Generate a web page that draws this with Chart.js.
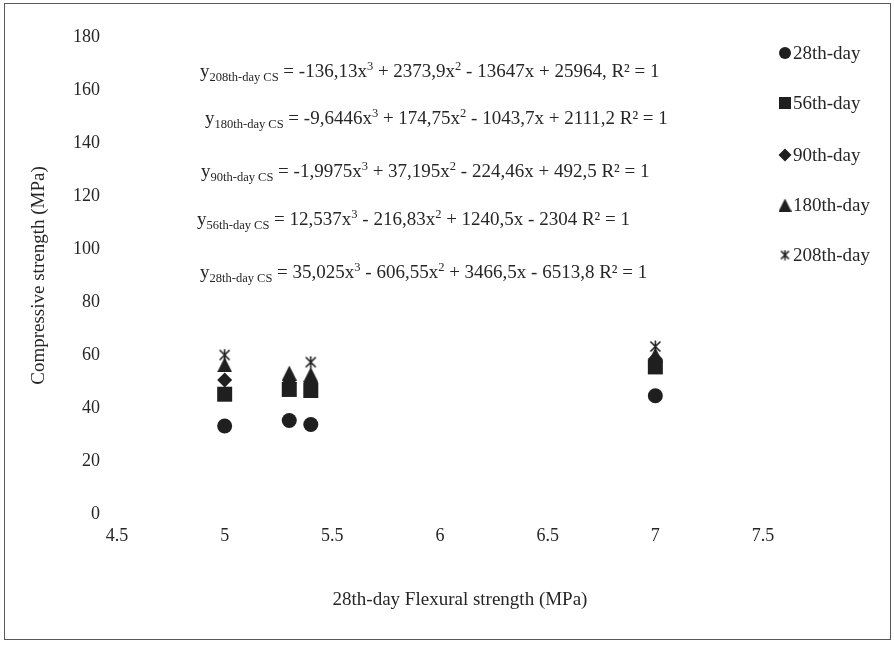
<!DOCTYPE html>
<html lang="en">
<head>
  <meta charset="UTF-8">
  <title>Compressive strength vs 28th-day flexural strength</title>
  <script src="https://cdn.jsdelivr.net/npm/chart.js"></script>
  <style>
    body {
      margin: 0;
      background: #fff;
    }
    .chart-container {
      position: relative;
      width: 894px;
      height: 645px;
    }
  </style>
</head>
<body>
  <div class="chart-container">
    <canvas id="myChart"></canvas>
  </div>

  <script>
    // data
    const flexural = [5, 5.3, 5.4, 7];
    const cs28 = [33.2, 35.3, 33.8, 44.6];
    const cs56 = [45.2, 47.0, 46.6, 55.5];
    const cs90 = [50.6, 49.5, 49.5, 58.5];
    const cs180 = [56.3, 53.2, 52.6, 60.0];
    const cs208 = [60.0, 48.5, 57.3, 63.2];
    const seriesLabels = ['28th-day', '56th-day', '90th-day', '180th-day', '208th-day'];
    const equations = [
      'y_{208th-day CS} = -136,13x^{3} + 2373,9x^{2} - 13647x + 25964, R² = 1',
      'y_{180th-day CS} = -9,6446x^{3} + 174,75x^{2} - 1043,7x + 2111,2 R² = 1',
      'y_{90th-day CS} = -1,9975x^{3} + 37,195x^{2} - 224,46x + 492,5 R² = 1',
      'y_{56th-day CS} = 12,537x^{3} - 216,83x^{2} + 1240,5x - 2304 R² = 1',
      'y_{28th-day CS} = 35,025x^{3} - 606,55x^{2} + 3466,5x - 6513,8 R² = 1'
    ];
    const xTitle = '28th-day Flexural strength (MPa)';
    const yTitle = 'Compressive strength (MPa)';

    const FONT = '"Liberation Serif", "Times New Roman", serif';
    const ink = '#1f1f1f';
    const textColor = '#262626';

    // Excel-like star marker: an X with a vertical bar
    function starMarker(size) {
      const c = document.createElement('canvas');
      c.width = size;
      c.height = size;
      const g = c.getContext('2d');
      g.strokeStyle = ink;
      g.lineWidth = 1.6;
      g.beginPath();
      g.moveTo(1.5, 1.5); g.lineTo(size - 1.5, size - 1.5);
      g.moveTo(size - 1.5, 1.5); g.lineTo(1.5, size - 1.5);
      g.moveTo(size / 2, 0.5); g.lineTo(size / 2, size - 0.5);
      g.stroke();
      return c;
    }

    // Excel-like triangle: as wide as it is tall
    function triangleMarker(size) {
      const c = document.createElement('canvas');
      c.width = size;
      c.height = size;
      const g = c.getContext('2d');
      g.fillStyle = ink;
      g.beginPath();
      g.moveTo(size / 2, 0);
      g.lineTo(size, size);
      g.lineTo(0, size);
      g.closePath();
      g.fill();
      return c;
    }

    const markers = [
      { style: 'circle', radius: 7.5, legendRadius: 6 },
      { style: 'rect', radius: 10.6, legendRadius: 8.5 },
      { style: 'rectRot', radius: 7.5, legendRadius: 6.5 },
      { style: triangleMarker(15), radius: 7.5, legendStyle: triangleMarker(13) },
      { style: starMarker(13), radius: 6, legendStyle: starMarker(11) }
    ];

    const seriesValues = [cs28, cs56, cs90, cs180, cs208];
    const datasets = seriesValues.map((vals, i) => ({
      label: seriesLabels[i],
      data: flexural.map((x, j) => ({ x: x, y: vals[j] })),
      pointStyle: markers[i].style,
      pointRadius: markers[i].radius,
      pointHoverRadius: markers[i].radius,
      pointBackgroundColor: ink,
      pointBorderColor: ink,
      pointBorderWidth: 0,
      showLine: false,
      order: 5 - i   // later series on top, like the original
    }));

    // positions of the overlaid texts
    const eqPos = [[200, 77], [205, 124], [201, 177], [197, 225], [200, 278]];
    const legendPos = { x: 785, textX: 793, y: [53, 103, 155, 205, 255] };

    function drawRich(ctx, str, x, y, size) {
      const parts = str.split(/(_\{[^}]*\}|\^\{[^}]*\})/);
      parts.forEach(p => {
        if (!p) return;
        let s = size, dy = 0, t = p;
        if (p.startsWith('_{')) { t = p.slice(2, -1); s = 12.5; dy = 4; }
        else if (p.startsWith('^{')) { t = p.slice(2, -1); s = 12.5; dy = -7; }
        ctx.font = s + 'px ' + FONT;
        ctx.fillText(t, x, y + dy);
        x += ctx.measureText(t).width;
      });
    }

    const decor = {
      id: 'decor',
      afterDraw(chart) {
        const ctx = chart.ctx;
        const area = chart.chartArea;
        ctx.save();

        // outer frame
        ctx.strokeStyle = '#595959';
        ctx.lineWidth = 1;
        ctx.strokeRect(4.5, 3.5, 886, 636);

        ctx.fillStyle = textColor;
        ctx.textAlign = 'left';
        ctx.textBaseline = 'alphabetic';
        equations.forEach((eq, i) => drawRich(ctx, eq, eqPos[i][0], eqPos[i][1], 19));

        // axis titles
        ctx.font = '19px ' + FONT;
        ctx.textAlign = 'center';
        ctx.textBaseline = 'middle';
        ctx.fillText(xTitle, 460, 600);
        ctx.save();
        ctx.translate(39, (area.top + area.bottom) / 2);
        ctx.rotate(-Math.PI / 2);
        ctx.fillText(yTitle, 0, 0);
        ctx.restore();

        // legend
        ctx.textAlign = 'left';
        seriesLabels.forEach((lab, i) => {
          const m = markers[i];
          const y = legendPos.y[i];
          ctx.fillStyle = ink;
          Chart.helpers.drawPoint(ctx, {
            pointStyle: m.legendStyle || m.style,
            radius: m.legendRadius || m.radius,
            rotation: 0,
            borderWidth: 0
          }, legendPos.x, y);
          ctx.fillStyle = textColor;
          ctx.fillText(lab, legendPos.textX, y + 1);
        });

        ctx.restore();
      }
    };

    const ctx = document.getElementById('myChart').getContext('2d');
    const myChart = new Chart(ctx, {
      type: 'scatter',
      data: { datasets: datasets },
      options: {
        responsive: true,
        maintainAspectRatio: false,
        animation: false,
        layout: {
          padding: { left: 57, right: 131, top: 37, bottom: 91 }
        },
        scales: {
          x: {
            type: 'linear',
            min: 4.5,
            max: 7.5,
            grid: { display: false, drawTicks: false },
            border: { display: false },
            ticks: {
              stepSize: 0.5,
              padding: 11,
              color: textColor,
              font: { family: FONT, size: 18 },
              callback: value => String(value)
            },
            afterFit(scale) { scale.height = 40; }
          },
          y: {
            min: 0,
            max: 180,
            grid: { display: false, drawTicks: false },
            border: { display: false },
            ticks: {
              stepSize: 20,
              padding: 17,
              color: textColor,
              font: { family: FONT, size: 18 }
            },
            afterFit(scale) { scale.width = 60; }
          }
        },
        plugins: {
          legend: { display: false },
          tooltip: { enabled: false }
        }
      },
      plugins: [decor]
    });
  </script>
</body>
</html>
